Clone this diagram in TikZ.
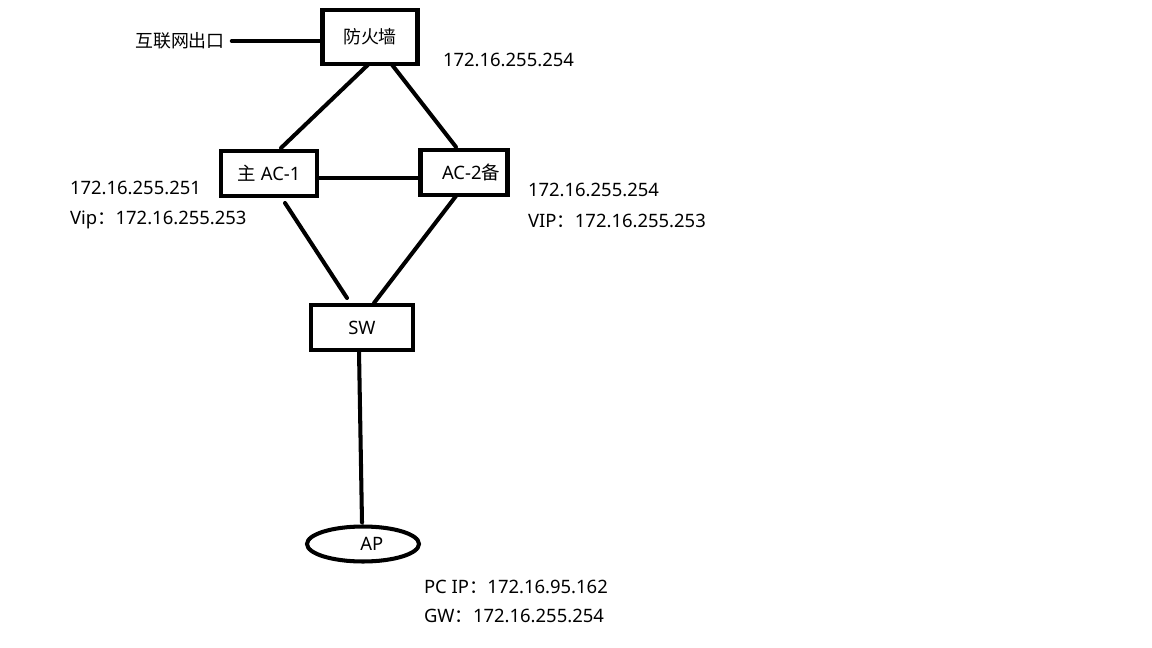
\documentclass[tikz,border=0pt]{standalone}
\usepackage{fontspec}
\setmainfont{Noto Sans}
\newfontfamily\cjk{Noto Sans CJK SC}
\usetikzlibrary{calc,shapes.geometric}
\begin{document}
\begin{tikzpicture}[x=0.02cm,y=-0.02cm,
  every node/.style={font=\fontsize{10.5pt}{12pt}\selectfont, inner sep=0pt, outer sep=0pt},
  dev/.style={draw, line width=2.3pt, rectangle, anchor=center},
  link/.style={line width=2.3pt, line cap=round},
  lbl/.style={anchor=base west}]
\useasboundingbox (0,0) rectangle (1152,648);
% devices
\node[dev, minimum width=1.9cm, minimum height=1.07cm, font=\cjk\fontsize{10.2pt}{12pt}\selectfont] (fw) at (370,37) {防火墙};
\node[dev, minimum width=1.92cm, minimum height=0.9cm] (ac1) at (269,173.5) {{\cjk 主} AC-1};
\node[dev, minimum width=1.74cm, minimum height=0.9cm] (ac2) at (464,172.5) {\hspace{8pt}AC-2{\cjk 备}};
\node[dev, minimum width=2.04cm, minimum height=0.9cm] (sw) at (362,327.5) {SW};
\node[draw, line width=2.3pt, ellipse, minimum width=2.24cm, minimum height=0.7cm] (ap) at (363,544) {\hspace{10pt}AP};
% labels
\node[font=\cjk\fontsize{10.2pt}{12pt}\selectfont] (net) at (180,41) {互联网出口};
\node[lbl] (ipfw) at (443,67) {172.16.255.254};
\node[lbl] (ip1) at (70,195) {172.16.255.251};
\node[lbl] (vip1) at (70,225) {Vip{\cjk ：}172.16.255.253};
\node[lbl] (ip2) at (528,197) {172.16.255.254};
\node[lbl] (vip2) at (528,228) {VIP{\cjk ：}172.16.255.253};
\node[lbl] (pc) at (424,593) {PC IP{\cjk ：}172.16.95.162};
\node[lbl] (gw) at (424,622) {GW{\cjk ：}172.16.255.254};
% links
\draw[link] ($(net.east)+(7,0)$) -- (net.east -| fw.west);
\draw[link] ($(fw.south)+(-2,1)$) -- ($(ac1.north)+(12,-3)$);
\draw[link] ($(fw.south)+(22,1)$) -- ($(ac2.north)+(-8,-3)$);
\draw[link] ($(ac1.east)+(0,4.5)$) -- ($(ac2.west)+(0,5.5)$);
\draw[link] ($(ac1.south)+(16,7)$) -- ($(sw.north)+(-15,-7)$);
\draw[link] ($(ac2.south)+(-8,1)$) -- ($(sw.north)+(12,-2)$);
\draw[link] ($(sw.south)+(-3,1)$) -- ($(ap.north)+(-1,-4)$);
\end{tikzpicture}
\end{document}
